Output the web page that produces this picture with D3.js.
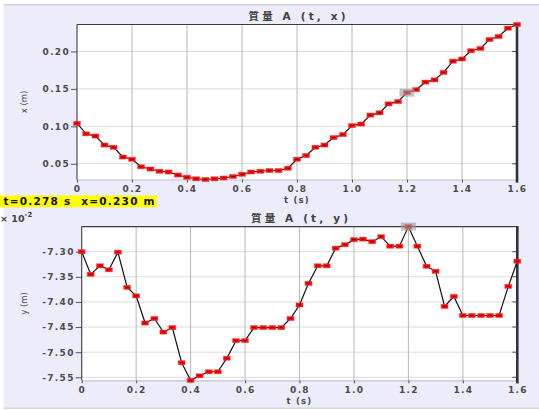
<!DOCTYPE html>
<html>
<head>
<meta charset="utf-8">
<script src="https://cdn.jsdelivr.net/npm/d3@7"></script>
<style>
  html, body { margin: 0; padding: 0; background: #ffffff; }
  svg { display: block; }
  text { font-family: "DejaVu Sans", "Noto Sans CJK TC", sans-serif; }
</style>
</head>
<body>
<script>
// Frame times (s)
const times = [0.000,0.033,0.067,0.100,0.133,0.167,0.200,0.233,0.267,0.300,0.333,0.367,0.400,
  0.433,0.467,0.500,0.533,0.567,0.600,0.633,0.667,0.700,0.733,0.767,0.800,0.833,0.867,0.900,
  0.933,0.967,1.000,1.033,1.067,1.100,1.133,1.167,1.200,1.233,1.267,1.300,1.333,1.367,1.400,
  1.433,1.467,1.500,1.533,1.567,1.600];

// Position x of mass A (m)
const xValues = [0.104,0.090,0.087,0.075,0.072,0.059,0.056,0.046,0.043,0.040,0.039,0.035,0.032,
  0.030,0.029,0.030,0.031,0.033,0.036,0.039,0.040,0.041,0.041,0.044,0.056,0.061,0.072,0.075,
  0.085,0.089,0.101,0.103,0.115,0.118,0.130,0.133,0.145,0.149,0.159,0.162,0.172,0.187,0.190,
  0.201,0.204,0.216,0.220,0.231,0.236];

// Position y of mass A (x 10^-2 m)
const yValues = [-7.300,-7.345,-7.328,-7.336,-7.301,-7.371,-7.388,-7.442,-7.433,-7.460,-7.451,
  -7.521,-7.556,-7.547,-7.539,-7.539,-7.512,-7.477,-7.477,-7.451,-7.451,-7.451,-7.451,-7.433,
  -7.406,-7.363,-7.328,-7.328,-7.293,-7.286,-7.276,-7.275,-7.280,-7.270,-7.289,-7.289,-7.250,
  -7.289,-7.329,-7.339,-7.409,-7.389,-7.427,-7.427,-7.427,-7.427,-7.427,-7.369,-7.319];

// Axis ticks and their labels
const tTicks = [0, 0.2, 0.4, 0.6, 0.8, 1.0, 1.2, 1.4, 1.6];
const tTickLabels = ["0", "0.2", "0.4", "0.6", "0.8", "1.0", "1.2", "1.4", "1.6"];
const xTicks = [0.05, 0.10, 0.15, 0.20];
const xTickLabels = ["0.05", "0.10", "0.15", "0.20"];
const yTicks = [-7.30, -7.35, -7.40, -7.45, -7.50, -7.55];
const yTickLabels = ["-7.30", "-7.35", "-7.40", "-7.45", "-7.50", "-7.55"];

// Highlighted sample and readout
const selectedIndex = 36;
const readoutText = "t=0.278 s  x=0.230 m";

const W = 539, H = 410;
const svg = d3.select("body").append("svg").attr("width", W).attr("height", H);

// window panel
svg.append("rect").attr("x", 0).attr("y", 0).attr("width", W).attr("height", H).attr("fill", "#ffffff");
svg.append("rect").attr("x", 3.5).attr("y", 5).attr("width", W - 3.5).attr("height", 403).attr("fill", "#ececfb");
svg.append("line").attr("x1", 3.5).attr("x2", W).attr("y1", 4.8).attr("y2", 4.8)
  .attr("stroke", "#d2d2da").attr("stroke-width", 1.6);
svg.append("line").attr("x1", 3.5).attr("x2", W).attr("y1", 408.2).attr("y2", 408.2)
  .attr("stroke", "#d6d6de").attr("stroke-width", 1.4);

function drawPanel(cfg) {
  const { left, right, top, bottom, values, yTickVals, yTickText, title, yLabel } = cfg;
  const g = svg.append("g");

  const x = d3.scaleLinear().domain([0, 1.6]).range([left, right]);
  const y = d3.scaleLinear().domain(d3.extent(values)).range([bottom, top]);

  g.append("rect").attr("x", left).attr("y", top).attr("width", right - left)
    .attr("height", bottom - top).attr("fill", "#ffffff");

  // grid
  g.selectAll(".hgrid").data(yTickVals).join("line")
    .attr("x1", left).attr("x2", right)
    .attr("y1", d => y(d)).attr("y2", d => y(d))
    .attr("stroke", "#dcdcdc").attr("stroke-width", 1);
  g.selectAll(".vgrid").data(tTicks.slice(1, -1)).join("line")
    .attr("x1", d => x(d)).attr("x2", d => x(d))
    .attr("y1", top).attr("y2", bottom)
    .attr("stroke", "#b8b8b8").attr("stroke-width", 1);

  // bottom axis
  const ax = g.append("g").attr("transform", `translate(0,${bottom})`)
    .call(d3.axisBottom(x).tickValues(tTicks).tickSize(3).tickPadding(3)
      .tickFormat((d, i) => tTickLabels[i]));
  ax.select(".domain").attr("stroke", "#c4c4cc").attr("stroke-width", 1.2);
  ax.selectAll(".tick line").attr("stroke", "#555");
  ax.selectAll(".tick text").attr("fill", "#4a4a4a").attr("font-size", 9).attr("font-weight", "bold")
    .attr("letter-spacing", "1.3px").attr("dy", "0.7em");

  // left axis
  const ay = g.append("g").attr("transform", `translate(${left},0)`)
    .call(d3.axisLeft(y).tickValues(yTickVals).tickSize(6).tickPadding(1)
      .tickFormat((d, i) => yTickText[i]));
  ay.select(".domain").remove();
  ay.selectAll(".tick line").attr("stroke", "#555");
  ay.selectAll(".tick text").attr("fill", "#4a4a4a").attr("font-size", 9).attr("font-weight", "bold")
    .attr("letter-spacing", "1.3px");

  // right inward ticks
  g.selectAll(".rtick").data(yTickVals).join("line")
    .attr("x1", right - 5).attr("x2", right)
    .attr("y1", d => y(d)).attr("y2", d => y(d))
    .attr("stroke", "#555");

  // frame
  g.append("line").attr("x1", left).attr("x2", left).attr("y1", top).attr("y2", bottom)
    .attr("stroke", "#3c3c3c").attr("stroke-width", 1.1);
  g.append("line").attr("x1", left).attr("x2", right).attr("y1", top).attr("y2", top)
    .attr("stroke", "#3c3c3c").attr("stroke-width", 1.1);
  g.append("line").attr("x1", right).attr("x2", right).attr("y1", top - 0.5).attr("y2", bottom + 3)
    .attr("stroke", "#333").attr("stroke-width", 2.6);

  // trace
  const line = d3.line().x((d, i) => x(times[i])).y(d => y(d));
  g.append("path").datum(values).attr("d", line)
    .attr("fill", "none").attr("stroke", "#111").attr("stroke-width", 1.2);

  // markers
  const m = g.selectAll(".mk").data(values).join("g")
    .attr("transform", (d, i) => `translate(${x(times[i])},${y(d)})`);
  m.append("rect").attr("x", -3.5).attr("y", -2.1).attr("width", 7).attr("height", 4.2)
    .attr("fill", "#ff0a0a").attr("stroke", "rgba(255,60,60,0.45)").attr("stroke-width", 0.8);
  m.append("rect").attr("x", -1.6).attr("y", -0.5).attr("width", 3.2).attr("height", 1)
    .attr("fill", "#6a0000");

  // selected sample highlight
  g.append("rect")
    .attr("x", x(times[selectedIndex]) - 7.5).attr("y", y(values[selectedIndex]) - 4)
    .attr("width", 15).attr("height", 8)
    .attr("fill", "#9a9a9a").attr("opacity", 0.6);

  // title
  const cx = (left + right) / 2;
  g.append("text").attr("x", cx).attr("y", top - 4.5).attr("text-anchor", "middle")
    .attr("font-size", 10.5).attr("font-weight", "bold").attr("fill", "#404040")
    .attr("textLength", 97).attr("lengthAdjust", "spacing").text(title);

  // axis titles
  g.append("text").attr("x", cx).attr("y", bottom + 23.5).attr("text-anchor", "middle")
    .attr("font-size", 8.5).attr("font-weight", "bold").attr("fill", "#4a4a4a")
    .attr("letter-spacing", "1.2px").text("t (s)");
  g.append("text").attr("transform", `translate(27,${(top + bottom) / 2}) rotate(-90)`)
    .attr("text-anchor", "middle").attr("font-size", 8.5).attr("fill", "#4a4a4a")
    .text(yLabel);
}

drawPanel({
  left: 77, right: 517, top: 24.5, bottom: 179.5,
  values: xValues, yTickVals: xTicks, yTickText: xTickLabels,
  title: "質量 A (t, x)", yLabel: "x (m)"
});

drawPanel({
  left: 81.7, right: 517.3, top: 226.6, bottom: 380.3,
  values: yValues, yTickVals: yTicks, yTickText: yTickLabels,
  title: "質量 A (t, y)", yLabel: "y (m)"
});

// exponent note for the lower panel
const expo = svg.append("text").attr("x", 0).attr("y", 221.5)
  .attr("font-size", 9.5).attr("font-weight", "bold").attr("fill", "#444");
expo.append("tspan").text("× 10");
expo.append("tspan").attr("dy", -4.5).attr("font-size", 7).text("-2");

// readout tag
svg.append("rect").attr("x", 0).attr("y", 195.5).attr("width", 157).attr("height", 11.8)
  .attr("fill", "#ffff00");
svg.append("text").attr("x", 3.5).attr("y", 205.2).attr("font-size", 10.5).attr("font-weight", "bold")
  .attr("fill", "#111").attr("textLength", 151).attr("lengthAdjust", "spacing")
  .attr("xml:space", "preserve").style("white-space", "pre").text(readoutText);
</script>
</body>
</html>
